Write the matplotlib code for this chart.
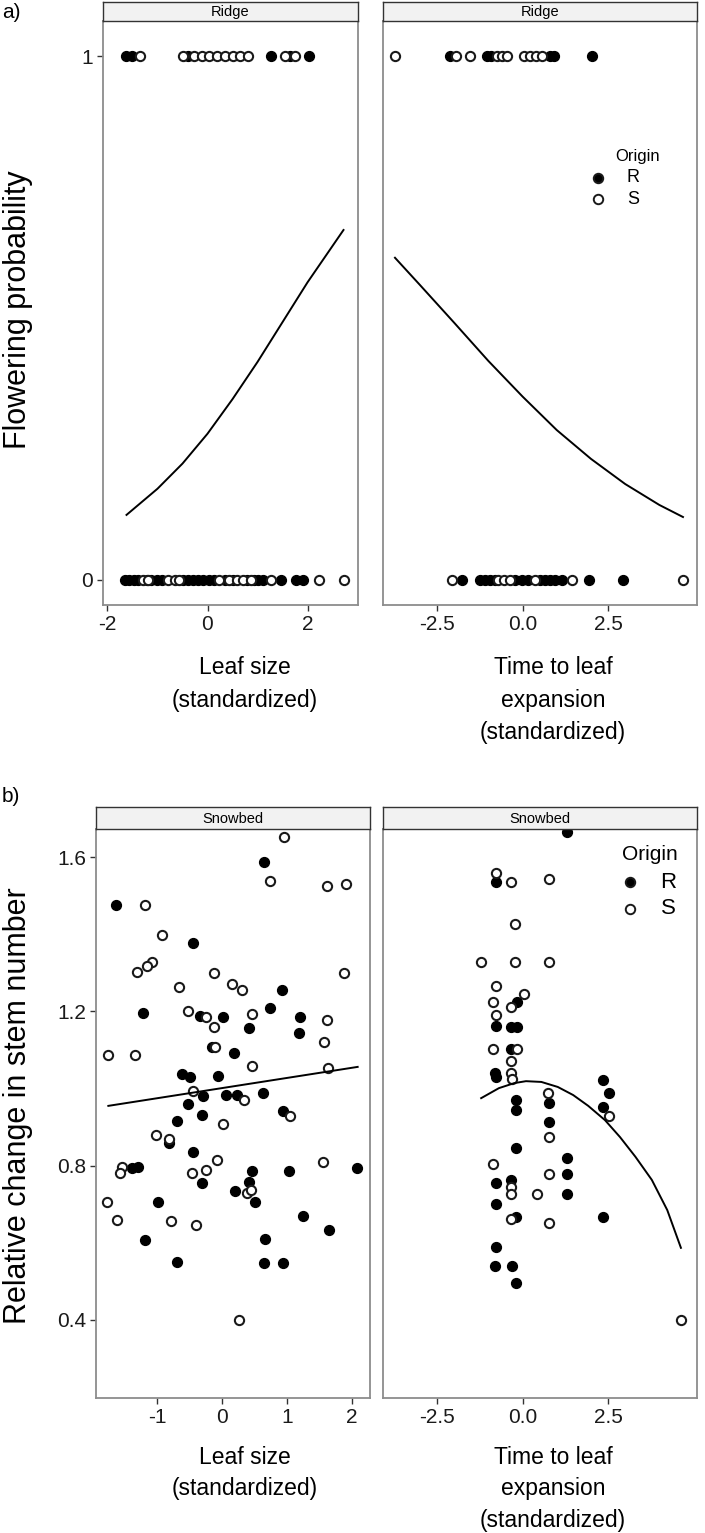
import numpy as np
import matplotlib.pyplot as plt
from matplotlib.lines import Line2D

plt.rcParams['font.family'] = ['Liberation Sans', 'DejaVu Sans']

# ---- a) Ridge: flowering probability ----
# leaf size, flowering (1) / not flowering (0)
ls_r_flower = [-1.62, -1.50, -0.40, 1.26, 1.65, 2.02]
ls_s_flower = [-1.35, -0.50, -0.28, -0.12, 0.02, 0.18, 0.34, 0.50, 0.65, 0.80, 1.55, 1.75]
ls_r_none = [-1.64, -1.56, -1.48, -1.40, -1.22, -1.12, -1.02, -0.92, -0.50, -0.40, -0.30, -0.20,
             -0.10, 0.02, 0.12, 0.34, 0.50, 0.78, 0.92, 1.00, 1.10, 1.46, 1.76, 1.90]
ls_s_none = [-1.30, -1.20, -0.80, -0.66, -0.58, 0.22, 0.42, 0.58, 0.70, 0.86, 1.26, 2.22, 2.72]
ls_fit_x = [-1.62, -1.0, -0.5, 0.0, 0.5, 1.0, 1.5, 2.0, 2.72]
ls_fit_y = [0.124, 0.174, 0.222, 0.279, 0.345, 0.416, 0.492, 0.568, 0.668]

# time to leaf expansion
tl_r_flower = [-2.12, -1.05, -0.92, 0.80, 0.92, 2.03]
tl_s_flower = [-3.73, -1.95, -1.54, -0.75, -0.60, -0.45, 0.05, 0.22, 0.40, 0.58]
tl_r_none = [-1.77, -1.24, -1.10, -0.95, -0.80, -0.22, -0.01, 0.16, 0.50, 0.66, 0.80, 0.95, 1.15,
             1.94, 2.94]
tl_s_none = [-2.06, -0.72, -0.54, -0.37, 0.37, 1.45, 4.69]
tl_fit_x = [-3.73, -3.0, -2.0, -1.0, 0.0, 1.0, 2.0, 3.0, 4.0, 4.69]
tl_fit_y = [0.615, 0.563, 0.491, 0.418, 0.350, 0.286, 0.231, 0.183, 0.143, 0.120]

# ---- b) Snowbed: relative change in stem number ----
sb_ls_r_x = [0.65, -1.63, -0.45, 0.92, 0.74, -1.22, -0.34, 0.02, 1.20, 0.42, 1.18, -0.15, 0.18,
             -0.62, -0.49, -0.06, -0.29, 0.06, 0.23, 0.63, -0.52, -0.31, 0.94, -0.69, -0.82,
             -0.45, -1.38, -1.29, -0.31, 0.46, 0.42, 1.03, 2.08, 0.20, 0.51, -0.98, 1.25, 1.65,
             -1.18, 0.66, -0.69, 0.65, 0.94]
sb_ls_r_y = [1.587, 1.476, 1.377, 1.255, 1.209, 1.196, 1.188, 1.185, 1.185, 1.157, 1.144, 1.108,
             1.092, 1.038, 1.030, 1.032, 0.981, 0.983, 0.983, 0.988, 0.960, 0.931, 0.942, 0.916,
             0.859, 0.835, 0.794, 0.797, 0.755, 0.786, 0.758, 0.786, 0.794, 0.734, 0.706, 0.706,
             0.670, 0.633, 0.607, 0.610, 0.550, 0.548, 0.548]
sb_ls_s_x = [0.95, 0.74, 1.62, 1.91, -1.18, -0.92, -1.08, -1.15, -1.31, -0.12, 1.88, -0.66, 0.15,
             0.31, -0.52, -0.25, 0.46, 1.62, -0.12, 1.57, -0.11, -1.75, -1.34, 0.46, 1.63, -0.45,
             0.34, 1.05, 0.02, -1.02, -0.82, -0.08, 1.55, -1.54, -1.57, -0.46, -0.25, 0.38, 0.45,
             -1.77, -1.62, -0.78, -0.40, 0.26]
sb_ls_s_y = [1.652, 1.538, 1.525, 1.530, 1.476, 1.398, 1.328, 1.318, 1.302, 1.299, 1.299, 1.263,
             1.271, 1.255, 1.201, 1.185, 1.193, 1.178, 1.159, 1.121, 1.108, 1.087, 1.087, 1.058,
             1.053, 0.994, 0.970, 0.929, 0.908, 0.880, 0.869, 0.815, 0.810, 0.797, 0.781, 0.781,
             0.789, 0.729, 0.737, 0.706, 0.659, 0.657, 0.646, 0.400]
sb_ls_fit_x = [-1.75, 2.09]
sb_ls_fit_y = [0.955, 1.056]

sb_tl_r_x = [1.29, -0.79, -0.79, -0.35, -0.15, -0.15, -0.35, -0.82, -0.79, 2.35, 2.53, -0.18,
             -0.18, 0.76, 2.35, 0.76, -0.18, 1.29, 1.29, -0.79, -0.35, 1.29, -0.79, 2.35, -0.18,
             -0.79, -0.82, -0.32, -0.18]
sb_tl_r_y = [1.665, 1.535, 1.162, 1.159, 1.159, 1.224, 1.102, 1.040, 1.030, 1.022, 0.988, 0.970,
             0.944, 0.962, 0.952, 0.913, 0.846, 0.820, 0.778, 0.755, 0.763, 0.727, 0.701, 0.667,
             0.667, 0.589, 0.540, 0.540, 0.496]
sb_tl_s_x = [-0.79, -0.35, 0.76, -0.21, -1.21, -0.21, 0.76, -0.79, -0.85, 0.03, -0.35, -0.79,
             -0.85, -0.15, -0.35, -0.35, -0.32, 0.74, 2.53, 0.76, -0.85, 0.76, -0.35, -0.35, 0.41,
             -0.35, 0.76, 4.63]
sb_tl_s_y = [1.559, 1.535, 1.543, 1.426, 1.328, 1.328, 1.328, 1.266, 1.224, 1.245, 1.211, 1.191,
             1.102, 1.102, 1.071, 1.040, 1.025, 0.988, 0.929, 0.874, 0.804, 0.778, 0.745, 0.727,
             0.727, 0.662, 0.651, 0.400]
sb_tl_fit_x = [-1.21, -0.69, -0.24, 0.10, 0.55, 1.03, 1.48, 1.92, 2.41, 2.85, 3.30, 3.78, 4.23, 4.63]
sb_tl_fit_y = [0.975, 1.001, 1.014, 1.019, 1.017, 1.004, 0.983, 0.955, 0.918, 0.874, 0.823, 0.763,
               0.685, 0.587]

W, H = 705, 1533
fig = plt.figure(figsize=(W / 100, H / 100), dpi=100)

TICK_FS = 15
TITLE_FS = 16.5


def px_axes(x0, y0, x1, y1):
    return fig.add_axes([x0 / W, 1 - y1 / H, (x1 - x0) / W, (y1 - y0) / H])


def panel(x0, y0, x1, y1, strip_h, label):
    ax = px_axes(x0, y0, x1, y1)
    for sp in ax.spines.values():
        sp.set_color('#8c8c8c')
        sp.set_linewidth(1.3)
    ax.tick_params(length=4, width=1, color='#333333', labelsize=TICK_FS,
                   labelcolor='#1a1a1a', pad=3)
    st = px_axes(x0, y0 - strip_h, x1, y0)
    st.set_facecolor('#f2f2f2')
    st.set_xticks([])
    st.set_yticks([])
    for sp in st.spines.values():
        sp.set_color('#333333')
        sp.set_linewidth(1)
    st.text(0.5, 0.45, label, ha='center', va='center', fontsize=10.5, transform=st.transAxes)
    return ax


def points(ax, rx, ry, sx, sy):
    ax.scatter(rx, ry, s=50, c='black', edgecolors='black', linewidths=1, zorder=3)
    ax.scatter(sx, sy, s=44, facecolors='white', edgecolors='#1a1a1a', linewidths=1.5, zorder=3)


def legend(x_mark, x_text, y_title, x_title, dy, fs):
    fig.text(x_title / W, 1 - y_title / H, 'Origin', ha='center', va='center', fontsize=fs)
    for i, (lab, fc) in enumerate([('R', 'black'), ('S', 'white')]):
        yy = 1 - (y_title + dy * (i + 1)) / H
        fig.add_artist(Line2D([x_mark / W], [yy], transform=fig.transFigure, marker='o',
                              markersize=6.8, markerfacecolor=fc, markeredgecolor='#1a1a1a',
                              markeredgewidth=1.4, linestyle='none'))
        fig.text(x_text / W, yy, lab, ha='center', va='center', fontsize=fs + 1)


def title_lines(xc, lines, y0, step=32):
    for i, t in enumerate(lines):
        fig.text(xc / W, 1 - (y0 + i * step) / H, t, ha='center', va='center',
                 fontsize=TITLE_FS)


# ---- top row ----
ax1 = panel(103, 21, 358, 605, 19, 'Ridge')
points(ax1, ls_r_flower + ls_r_none, [1] * len(ls_r_flower) + [0] * len(ls_r_none),
       ls_s_flower + ls_s_none, [1] * len(ls_s_flower) + [0] * len(ls_s_none))
ax1.plot(ls_fit_x, ls_fit_y, color='black', lw=1.4, zorder=2)
ax1.set_xlim(-2.09, 3.01)
ax1.set_ylim(-0.048, 1.067)
ax1.set_xticks([-2, 0, 2], ['-2', '0', '2'])
ax1.set_yticks([0, 1], ['0', '1'])

ax2 = panel(383, 21, 697, 605, 19, 'Ridge')
points(ax2, tl_r_flower + tl_r_none, [1] * len(tl_r_flower) + [0] * len(tl_r_none),
       tl_s_flower + tl_s_none, [1] * len(tl_s_flower) + [0] * len(tl_s_none))
ax2.plot(tl_fit_x, tl_fit_y, color='black', lw=1.4, zorder=2)
ax2.set_xlim(-4.08, 5.10)
ax2.set_ylim(-0.048, 1.067)
ax2.set_xticks([-2.5, 0, 2.5], ['-2.5', '0.0', '2.5'])
ax2.set_yticks([])

fig.text(2 / W, 1 - 12 / H, 'a)', ha='left', va='center', fontsize=15)
fig.text(18 / W, 1 - 310 / H, 'Flowering probability', rotation=90, ha='center', va='center',
         fontsize=22)
title_lines(245, ['Leaf size', '(standardized)'], 668)
title_lines(553, ['Time to leaf', 'expansion', '(standardized)'], 668)
legend(598, 633, 157, 638, 21, 12)

# ---- bottom row ----
ylim_b = (0.4 - (1398 - 1320) / 385.8, 1.6 + (857 - 829) / 385.8)

ax3 = panel(96, 829, 370, 1398, 22, 'Snowbed')
points(ax3, sb_ls_r_x, sb_ls_r_y, sb_ls_s_x, sb_ls_s_y)
ax3.plot(sb_ls_fit_x, sb_ls_fit_y, color='black', lw=1.4, zorder=4)
ax3.set_xlim(-1.94, 2.28)
ax3.set_ylim(*ylim_b)
ax3.set_xticks([-1, 0, 1, 2], ['-1', '0', '1', '2'])
ax3.set_yticks([0.4, 0.8, 1.2, 1.6], ['0.4', '0.8', '1.2', '1.6'])

ax4 = panel(383, 829, 697, 1398, 22, 'Snowbed')
points(ax4, sb_tl_r_x, sb_tl_r_y, sb_tl_s_x, sb_tl_s_y)
ax4.plot(sb_tl_fit_x, sb_tl_fit_y, color='black', lw=1.4, zorder=4)
ax4.set_xlim(-4.08, 5.10)
ax4.set_ylim(*ylim_b)
ax4.set_xticks([-2.5, 0, 2.5], ['-2.5', '0.0', '2.5'])
ax4.set_yticks([])

fig.text(2 / W, 1 - 796 / H, 'b)', ha='left', va='center', fontsize=15)
fig.text(18 / W, 1 - 1106 / H, 'Relative change in stem number', rotation=90, ha='center',
         va='center', fontsize=22)
title_lines(245, ['Leaf size', '(standardized)'], 1458, 31)
title_lines(553, ['Time to leaf', 'expansion', '(standardized)'], 1458, 31)
legend(630, 668, 855, 650, 27, 15)

fig.savefig('out.png', dpi=100)
